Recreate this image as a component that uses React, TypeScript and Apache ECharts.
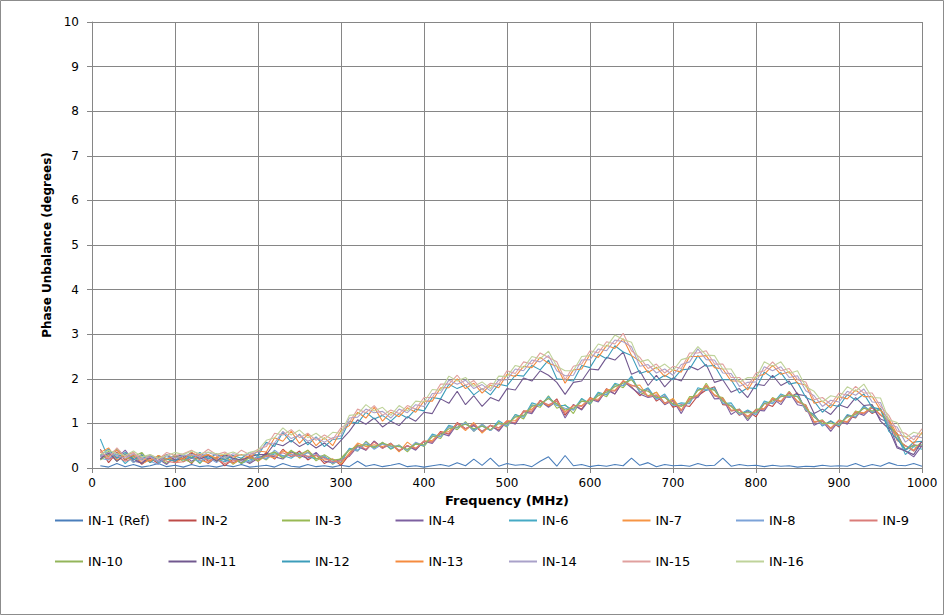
import React, { useEffect, useRef } from "react";
import * as echarts from "echarts";

// Frequency grid (MHz): 10 .. 1000 in 10 MHz steps
const FREQ: number[] = Array.from({ length: 100 }, (_, i) => 10 + 10 * i);

const X_TICKS = [0, 100, 200, 300, 400, 500, 600, 700, 800, 900, 1000];
const Y_TICKS = [0, 1, 2, 3, 4, 5, 6, 7, 8, 9, 10];

const in1: number[] = [
  0.05,0.02,0.1,0.03,0.08,0.02,0.05,0.1,0.03,0.06,
  0.02,0.08,0.03,0.05,0.02,0.06,0.03,0.08,0.02,0.04,
  0.06,0.02,0.1,0.04,0.02,0.08,0.03,0.05,0.02,0.06,
  0.03,0.15,0.04,0.08,0.03,0.06,0.1,0.03,0.05,0.02,
  0.05,0.08,0.04,0.12,0.05,0.2,0.06,0.22,0.04,0.1,
  0.06,0.08,0.03,0.15,0.25,0.04,0.28,0.05,0.08,0.03,
  0.06,0.04,0.08,0.05,0.22,0.06,0.12,0.03,0.08,0.05,
  0.06,0.04,0.1,0.05,0.06,0.22,0.04,0.08,0.05,0.06,
  0.03,0.06,0.04,0.05,0.02,0.04,0.03,0.06,0.04,0.05,
  0.04,0.1,0.03,0.08,0.04,0.12,0.06,0.05,0.1,0.04,
];
const in2: number[] = [
  0.42,0.12,0.35,0.18,0.28,0.08,0.22,0.1,0.3,0.14,
  0.26,0.1,0.32,0.15,0.22,0.05,0.2,0.12,0.28,0.16,
  0.35,0.2,0.42,0.25,0.38,0.18,0.3,0.1,0.2,0.06,
  0.3,0.52,0.4,0.6,0.45,0.55,0.38,0.5,0.42,0.6,
  0.58,0.82,0.76,1.02,0.88,0.96,0.8,0.95,0.85,1.05,
  1.0,1.28,1.25,1.52,1.38,1.55,1.18,1.42,1.32,1.58,
  1.5,1.78,1.66,1.95,1.82,1.62,1.78,1.5,1.62,1.36,
  1.42,1.38,1.62,1.75,1.82,1.42,1.4,1.18,1.28,1.15,
  1.45,1.38,1.62,1.58,1.68,1.28,1.2,0.95,1.05,0.92,
  1.18,1.12,1.38,1.22,1.32,0.92,0.78,0.4,0.52,0.48,
];
const in3: number[] = [
  0.2,0.38,0.15,0.32,0.12,0.28,0.16,0.24,0.1,0.3,
  0.14,0.28,0.1,0.3,0.16,0.26,0.08,0.22,0.12,0.28,
  0.18,0.36,0.24,0.4,0.22,0.36,0.16,0.28,0.08,0.22,
  0.42,0.38,0.6,0.44,0.58,0.42,0.52,0.36,0.56,0.48,
  0.72,0.66,0.94,0.86,1.04,0.82,0.98,0.84,1.02,0.92,
  1.2,1.1,1.42,1.36,1.62,1.34,1.42,1.22,1.55,1.42,
  1.68,1.6,1.88,1.8,2.02,1.7,1.62,1.7,1.45,1.55,
  1.28,1.6,1.6,1.9,1.62,1.58,1.28,1.32,1.1,1.32,
  1.32,1.58,1.48,1.72,1.48,1.42,1.02,1.08,0.88,1.08,
  1.02,1.28,1.22,1.4,1.18,1.08,0.62,0.5,0.38,0.6,
];
const in4: number[] = [
  0.25,0.3,0.22,0.4,0.15,0.12,0.28,0.2,0.08,0.25,
  0.3,0.15,0.25,0.1,0.24,0.18,0.12,0.2,0.1,0.22,
  0.3,0.25,0.2,0.36,0.28,0.22,0.35,0.15,0.12,0.2,
  0.26,0.48,0.4,0.6,0.44,0.56,0.38,0.5,0.4,0.6,
  0.55,0.78,0.72,0.98,0.88,0.95,0.82,0.96,0.82,1.06,
  0.98,1.26,1.22,1.5,1.36,1.5,1.12,1.42,1.3,1.55,
  1.48,1.75,1.66,1.95,1.8,1.66,1.58,1.62,1.42,1.52,
  1.22,1.56,1.58,1.85,1.55,1.56,1.2,1.32,1.06,1.3,
  1.28,1.56,1.42,1.7,1.42,1.38,0.96,1.05,0.82,1.06,
  0.98,1.25,1.18,1.36,1.1,1.02,0.48,0.38,0.25,0.5,
];
const in6: number[] = [
  0.65,0.2,0.32,0.1,0.26,0.18,0.3,0.12,0.22,0.26,
  0.18,0.24,0.12,0.28,0.2,0.14,0.22,0.1,0.18,0.24,
  0.22,0.32,0.28,0.22,0.34,0.26,0.2,0.24,0.18,0.12,
  0.44,0.4,0.54,0.48,0.56,0.44,0.5,0.4,0.54,0.5,
  0.76,0.7,0.96,0.9,1.0,0.86,0.94,0.84,1.06,0.94,
  1.2,1.14,1.46,1.4,1.6,1.4,1.4,1.3,1.56,1.44,
  1.7,1.64,1.9,1.84,2.06,1.7,1.8,1.54,1.66,1.4,
  1.46,1.44,1.8,1.74,1.8,1.44,1.46,1.2,1.3,1.2,
  1.5,1.44,1.66,1.58,1.66,1.3,1.2,0.94,1.06,0.94,
  1.2,1.14,1.4,1.24,1.34,0.9,0.73,0.3,0.48,0.42,
];
const in7: number[] = [
  0.35,0.45,0.18,0.28,0.35,0.1,0.18,0.22,0.3,0.12,
  0.22,0.3,0.18,0.12,0.25,0.3,0.1,0.2,0.26,0.15,
  0.28,0.22,0.38,0.32,0.24,0.4,0.22,0.18,0.2,0.1,
  0.34,0.56,0.48,0.52,0.48,0.55,0.36,0.58,0.44,0.6,
  0.62,0.8,0.82,1.0,0.84,1.02,0.78,0.96,0.9,1.06,
  1.06,1.26,1.32,1.5,1.4,1.5,1.26,1.4,1.4,1.56,
  1.54,1.76,1.74,1.96,1.84,1.86,1.6,1.7,1.44,1.56,
  1.3,1.56,1.64,1.86,1.64,1.56,1.3,1.3,1.16,1.3,
  1.34,1.56,1.5,1.7,1.5,1.4,1.04,1.06,0.9,1.06,
  1.04,1.26,1.24,1.36,1.2,1.06,0.64,0.5,0.4,0.6,
];
const in8: number[] = [
  0.22,0.18,0.4,0.3,0.12,0.25,0.15,0.08,0.28,0.18,
  0.28,0.22,0.16,0.24,0.12,0.28,0.2,0.16,0.14,0.26,
  0.2,0.4,0.26,0.3,0.26,0.34,0.28,0.26,0.1,0.18,
  0.42,0.38,0.58,0.42,0.54,0.48,0.5,0.4,0.58,0.5,
  0.72,0.7,0.92,0.9,1.02,0.82,0.98,0.84,1.0,0.94,
  1.16,1.16,1.4,1.42,1.56,1.4,1.34,1.3,1.5,1.46,
  1.64,1.66,1.84,1.86,2.01,1.7,1.76,1.54,1.61,1.4,
  1.4,1.46,1.76,1.76,1.76,1.46,1.4,1.2,1.26,1.2,
  1.46,1.46,1.61,1.6,1.61,1.3,1.16,0.96,1.01,0.96,
  1.16,1.16,1.36,1.26,1.31,0.96,0.76,0.4,0.51,0.5,
];
const in9: number[] = [
  0.3,0.2,0.25,0.15,0.22,0.3,0.16,0.22,0.15,0.12,
  0.14,0.22,0.28,0.18,0.2,0.1,0.16,0.18,0.22,0.2,
  0.26,0.28,0.34,0.26,0.3,0.26,0.28,0.22,0.14,0.16,
  0.28,0.52,0.42,0.58,0.44,0.54,0.4,0.5,0.44,0.6,
  0.58,0.8,0.78,1.0,0.88,0.98,0.82,0.96,0.9,1.04,
  1.02,1.26,1.28,1.5,1.42,1.5,1.22,1.4,1.38,1.54,
  1.52,1.74,1.72,1.94,1.86,1.78,1.6,1.64,1.46,1.5,
  1.28,1.54,1.62,1.84,1.62,1.54,1.28,1.3,1.14,1.3,
  1.32,1.54,1.48,1.7,1.48,1.4,1.02,1.06,0.88,1.06,
  1.02,1.24,1.22,1.36,1.18,1.06,0.62,0.5,0.38,0.6,
];
const in10: number[] = [
  0.18,0.3,0.42,0.2,0.25,0.35,0.12,0.28,0.18,0.3,
  0.2,0.12,0.26,0.3,0.16,0.22,0.28,0.1,0.24,0.16,
  0.3,0.36,0.22,0.38,0.3,0.4,0.2,0.3,0.18,0.2,
  0.4,0.5,0.52,0.46,0.56,0.5,0.48,0.42,0.54,0.52,
  0.7,0.74,0.88,0.92,0.98,0.88,0.94,0.86,1.0,0.98,
  1.14,1.18,1.38,1.44,1.56,1.44,1.3,1.34,1.5,1.48,
  1.62,1.7,1.82,1.9,1.98,1.76,1.72,1.58,1.58,1.44,
  1.38,1.5,1.74,1.8,1.74,1.5,1.38,1.24,1.24,1.24,
  1.44,1.5,1.6,1.64,1.6,1.34,1.14,1.0,1.0,0.98,
  1.14,1.2,1.34,1.28,1.3,0.98,0.74,0.42,0.5,0.52,
];
const in11: number[] = [
  0.2,0.35,0.15,0.3,0.2,0.1,0.25,0.15,0.3,0.18,
  0.22,0.35,0.2,0.28,0.15,0.3,0.22,0.18,0.25,0.3,
  0.3,0.55,0.5,0.62,0.48,0.58,0.45,0.56,0.42,0.62,
  0.82,1.08,0.98,1.12,0.92,1.05,0.95,1.15,1.05,1.25,
  1.22,1.55,1.45,1.72,1.42,1.62,1.38,1.58,1.5,1.78,
  1.75,2.02,1.95,2.18,2.08,1.92,1.65,1.92,1.95,2.22,
  2.2,2.48,2.42,2.6,2.1,2.18,1.85,2.08,1.82,2.02,
  1.95,2.28,2.2,2.32,1.92,1.98,1.7,1.78,1.58,1.88,
  1.85,2.08,1.85,1.95,1.65,1.62,1.22,1.32,1.2,1.42,
  1.35,1.58,1.4,1.42,1.05,0.88,0.45,0.38,0.3,0.6,
];
const in12: number[] = [
  0.28,0.42,0.22,0.35,0.18,0.3,0.12,0.26,0.2,0.15,
  0.3,0.22,0.35,0.2,0.32,0.18,0.28,0.22,0.35,0.28,
  0.58,0.48,0.8,0.58,0.76,0.52,0.7,0.48,0.64,0.66,
  1.05,1.0,1.25,1.1,1.18,1.05,1.22,1.12,1.32,1.28,
  1.58,1.55,1.88,1.78,1.86,1.64,1.78,1.64,1.88,1.84,
  2.08,2.06,2.3,2.2,2.42,2.0,1.98,1.95,2.3,2.25,
  2.55,2.45,2.74,2.6,2.52,2.12,2.18,1.96,2.08,1.98,
  2.2,2.22,2.52,2.28,2.3,1.98,1.98,1.68,1.8,1.78,
  2.15,2.02,2.14,1.88,1.92,1.58,1.5,1.25,1.42,1.38,
  1.65,1.52,1.66,1.36,1.32,0.82,0.66,0.4,0.58,0.6,
];
const in13: number[] = [
  0.35,0.25,0.4,0.2,0.3,0.22,0.15,0.28,0.2,0.25,
  0.2,0.35,0.25,0.3,0.22,0.32,0.25,0.3,0.24,0.38,
  0.36,0.68,0.6,0.82,0.55,0.76,0.5,0.68,0.5,0.84,
  0.95,1.25,1.12,1.36,1.05,1.25,1.15,1.35,1.25,1.5,
  1.5,1.8,1.8,2.0,1.78,1.9,1.68,1.86,1.8,2.1,
  2.05,2.28,2.25,2.48,2.35,2.28,1.9,2.2,2.22,2.55,
  2.48,2.75,2.68,2.9,2.52,2.4,2.14,2.26,2.05,2.2,
  2.15,2.5,2.5,2.52,2.25,2.22,1.95,1.95,1.75,2.05,
  2.1,2.3,2.1,2.16,1.9,1.86,1.45,1.5,1.35,1.6,
  1.55,1.75,1.6,1.6,1.3,1.1,0.75,0.7,0.55,0.8,
];
const in14: number[] = [
  0.25,0.35,0.28,0.22,0.32,0.2,0.25,0.15,0.3,0.22,
  0.28,0.3,0.25,0.35,0.28,0.22,0.32,0.28,0.3,0.36,
  0.54,0.56,0.82,0.66,0.74,0.6,0.68,0.58,0.68,0.72,
  1.12,1.14,1.32,1.24,1.27,1.12,1.32,1.24,1.42,1.38,
  1.67,1.68,1.97,1.88,1.97,1.78,1.87,1.73,1.97,1.98,
  2.22,2.18,2.42,2.38,2.52,2.18,2.07,2.08,2.42,2.43,
  2.67,2.63,2.87,2.83,2.72,2.28,2.32,2.13,2.22,2.08,
  2.32,2.38,2.67,2.43,2.42,2.13,2.12,1.83,1.92,1.93,
  2.27,2.18,2.27,2.03,2.07,1.73,1.62,1.38,1.52,1.48,
  1.72,1.63,1.77,1.48,1.47,0.98,0.92,0.58,0.72,0.68,
];
const in15: number[] = [
  0.38,0.22,0.45,0.25,0.35,0.15,0.3,0.2,0.35,0.28,
  0.32,0.4,0.28,0.42,0.3,0.36,0.25,0.4,0.3,0.42,
  0.48,0.78,0.74,0.86,0.68,0.78,0.62,0.74,0.64,0.9,
  1.02,1.32,1.24,1.4,1.18,1.3,1.22,1.4,1.32,1.58,
  1.58,1.88,1.88,2.08,1.85,1.96,1.75,1.9,1.88,2.18,
  2.12,2.38,2.33,2.58,2.48,2.38,1.98,2.28,2.33,2.63,
  2.58,2.83,2.78,3.02,2.63,2.48,2.23,2.33,2.13,2.28,
  2.23,2.58,2.58,2.63,2.33,2.33,2.03,2.03,1.83,2.13,
  2.18,2.38,2.18,2.23,1.98,1.93,1.53,1.58,1.43,1.68,
  1.63,1.83,1.68,1.68,1.38,1.18,0.83,0.78,0.63,0.88,
];
const in16: number[] = [
  0.3,0.4,0.32,0.28,0.38,0.25,0.3,0.22,0.28,0.35,
  0.3,0.38,0.32,0.36,0.32,0.3,0.36,0.28,0.35,0.4,
  0.62,0.68,0.9,0.74,0.85,0.68,0.78,0.64,0.8,0.78,
  1.18,1.2,1.42,1.28,1.36,1.18,1.4,1.28,1.5,1.48,
  1.76,1.74,2.06,1.95,2.03,1.83,1.93,1.78,2.06,2.05,
  2.3,2.25,2.5,2.45,2.62,2.28,2.18,2.18,2.5,2.52,
  2.78,2.72,2.98,2.88,2.82,2.38,2.43,2.22,2.33,2.18,
  2.43,2.48,2.72,2.53,2.52,2.22,2.22,1.92,2.03,2.02,
  2.38,2.28,2.38,2.12,2.18,1.82,1.72,1.48,1.62,1.58,
  1.82,1.72,1.88,1.58,1.57,1.08,1.02,0.68,0.8,0.75,
];

const SERIES_NAMES = [
  "IN-1 (Ref)", "IN-2", "IN-3", "IN-4", "IN-6", "IN-7", "IN-8", "IN-9",
  "IN-10", "IN-11", "IN-12", "IN-13", "IN-14", "IN-15", "IN-16",
];
const SERIES_VALUES = [in1, in2, in3, in4, in6, in7, in8, in9, in10, in11, in12, in13, in14, in15, in16];
const SERIES_COLORS = [
  "#4A7EBB", "#BE4B48", "#98B954", "#7D60A0", "#46AAC5", "#F69544", "#7CA3D8", "#DA7C79",
  "#93B55A", "#71588F", "#3C9DBA", "#F58B3F", "#A9A1C9", "#E0A09E", "#BFD39A",
];

const FONT = "'DejaVu Sans', Verdana, sans-serif";
const LEGEND_PER_ROW = 8;

export default function App() {
  const ref = useRef<HTMLDivElement>(null);
  useEffect(() => {
    if (!ref.current) return;
    const chart = echarts.init(ref.current, undefined, { renderer: "svg" });
    const series = SERIES_NAMES.map((name, i) => ({
      name,
      type: "line",
      data: FREQ.map((f, j) => [f, SERIES_VALUES[i][j]]),
      showSymbol: false,
      symbol: "none",
      color: SERIES_COLORS[i],
      lineStyle: { width: 1.1, color: SERIES_COLORS[i] },
      emphasis: { disabled: true },
    }));
    const legends = SERIES_NAMES.map((name, i) => ({
      left: 55 + (i % LEGEND_PER_ROW) * 113.5,
      top: i < LEGEND_PER_ROW ? 514 : 555,
      padding: 0,
      icon: "rect",
      itemWidth: 28,
      itemHeight: 2,
      data: [name],
      textStyle: { fontFamily: FONT, fontSize: 13, color: "#000" },
    }));
    chart.setOption({
      animation: false,
      backgroundColor: "#fff",
      textStyle: { fontFamily: FONT },
      grid: { left: 92, top: 22, width: 830, height: 446 },
      legend: legends,
      graphic: [
        {
          type: "rect",
          shape: { x: 0.5, y: 0.5, width: 943, height: 614 },
          style: { fill: "none", stroke: "#8c8c8c", lineWidth: 1 },
          silent: true,
        },
      ],
      xAxis: {
        type: "value",
        min: X_TICKS[0],
        max: X_TICKS[X_TICKS.length - 1],
        interval: 100,
        name: "Frequency (MHz)",
        nameLocation: "middle",
        nameGap: 26,
        nameTextStyle: { fontFamily: FONT, fontSize: 13, fontWeight: "bold", color: "#000" },
        axisLine: { show: true, lineStyle: { color: "#868686", width: 1 } },
        axisTick: { show: true, inside: false, length: 5, lineStyle: { color: "#868686" } },
        axisLabel: {
          fontFamily: FONT, fontSize: 12, color: "#000", margin: 9,
          formatter: (v: number) => String(v),
        },
        splitLine: { show: true, lineStyle: { color: "#868686", width: 1 } },
      },
      yAxis: {
        type: "value",
        min: Y_TICKS[0],
        max: Y_TICKS[Y_TICKS.length - 1],
        interval: 1,
        name: "Phase Unbalance (degrees)",
        nameLocation: "middle",
        nameGap: 34,
        nameTextStyle: { fontFamily: FONT, fontSize: 12, fontWeight: "bold", color: "#000" },
        axisLine: { show: true, lineStyle: { color: "#868686", width: 1 } },
        axisTick: { show: true, inside: false, length: 5, lineStyle: { color: "#868686" } },
        axisLabel: {
          fontFamily: FONT, fontSize: 12, color: "#000", margin: 13,
          formatter: (v: number) => String(v),
        },
        splitLine: { show: true, lineStyle: { color: "#868686", width: 1 } },
      },
      series,
    });
    return () => chart.dispose();
  }, []);
  return (
    <div
      ref={ref}
      style={{ position: "absolute", left: 0, top: 0, width: 945, height: 616 }}
    />
  );
}
